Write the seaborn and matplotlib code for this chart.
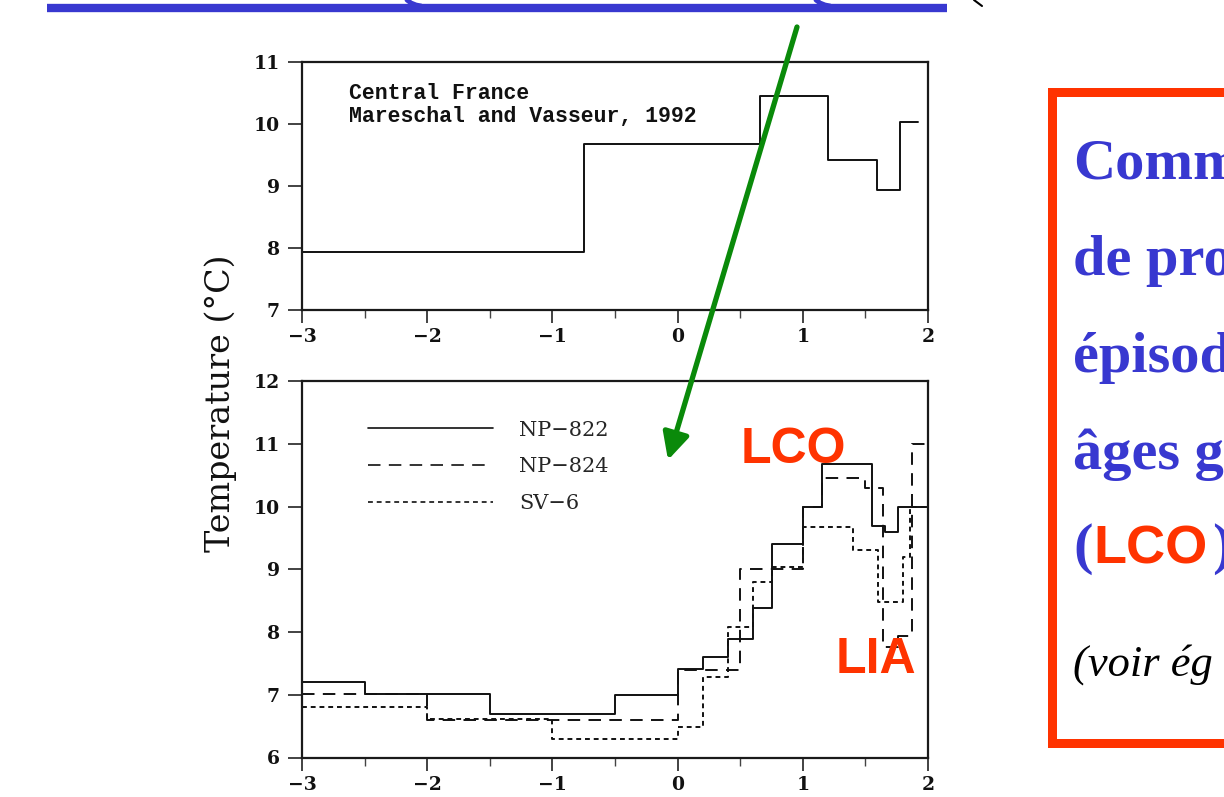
import pandas as pd
import seaborn as sns
import matplotlib.pyplot as plt
from matplotlib.patches import Rectangle
from matplotlib.ticker import MultipleLocator

# step edges (ka BP) and temperature (deg C)
cf_edges = [-3.0, -0.75, 0.66, 1.2, 1.59, 1.78, 1.92]
cf_temp = [7.94, 9.67, 10.45, 9.42, 8.94, 10.04]

np822_edges = [-3.0, -2.5, -1.5, -0.5, 0.0, 0.2, 0.4, 0.6, 0.75, 1.0, 1.15, 1.55, 1.66, 1.76, 2.0]
np822_temp = [7.21, 7.01, 6.70, 7.00, 7.41, 7.60, 7.89, 8.39, 9.40, 10.0, 10.68, 9.69, 9.60, 10.0]

np824_edges = [-3.0, -2.0, 0.0, 0.5, 1.0, 1.15, 1.5, 1.64, 1.76, 1.87, 2.0]
np824_temp = [7.01, 6.60, 7.39, 9.00, 10.0, 10.45, 10.29, 7.76, 7.93, 11.0]

sv6_edges = [-3.0, -2.0, -1.0, 0.0, 0.2, 0.4, 0.6, 0.75, 1.0, 1.4, 1.6, 1.8, 1.86, 2.0]
sv6_temp = [6.81, 6.61, 6.29, 6.49, 7.29, 8.08, 8.80, 9.04, 9.68, 9.31, 8.48, 9.20, 10.0]

x_ticks = [-3, -2, -1, 0, 1, 2]
top_yticks = [7, 8, 9, 10, 11]
bot_yticks = [6, 7, 8, 9, 10, 11, 12]

box_lines = ["Comm", "de pro", "épisod", "âges g"]

sns.set_theme(style="ticks")
plt.rcParams["font.family"] = ["DejaVu Serif", "DejaVu Sans"]
plt.rcParams["lines.scale_dashes"] = False

W, H = 1224, 797
fig = plt.figure(figsize=(W / 100, H / 100), dpi=100)
fig.patch.set_facecolor("white")


def px_axes(left, top, right, bottom):
    return fig.add_axes([left / W, 1 - bottom / H, (right - left) / W, (bottom - top) / H])


def steps(edges, temps, name):
    return pd.DataFrame({"age": edges, "temp": temps + [temps[-1]], "core": name})


def style_axes(ax, yticks):
    ax.set_xlim(-3, 2)
    ax.set_ylim(yticks[0], yticks[-1])
    ax.set_xticks(x_ticks)
    ax.set_xticklabels([str(t).replace("-", "\u2212") for t in x_ticks],
                       fontweight="bold", fontsize=13.5)
    ax.set_yticks(yticks)
    ax.set_yticklabels([str(t) for t in yticks], fontweight="bold", fontsize=13.5)
    ax.xaxis.set_minor_locator(MultipleLocator(0.5))
    ax.tick_params(axis="x", which="major", length=9, width=1.2, pad=4, color="#222")
    ax.tick_params(axis="x", which="minor", length=6, width=1.0, color="#444")
    ax.tick_params(axis="y", which="major", length=10, width=1.2, pad=6, color="#222")
    ax.tick_params(labelcolor="#111")
    for sp in ax.spines.values():
        sp.set_visible(True)
        sp.set_linewidth(1.6)
        sp.set_color("#1a1a1a")
    ax.set_xlabel("")
    ax.set_ylabel("")
    ax.set_facecolor("white")


# top panel
ax1 = px_axes(302, 62, 928, 310)
sns.lineplot(data=steps(cf_edges, cf_temp, "CF"), x="age", y="temp", ax=ax1,
             color="#111", lw=1.4, drawstyle="steps-post", estimator=None,
             sort=False, legend=False)
style_axes(ax1, top_yticks)
ax1.text(0.075, 0.915, "Central France\nMareschal and Vasseur, 1992",
         transform=ax1.transAxes, family="Liberation Mono", fontweight="bold",
         fontsize=15.5, va="top", ha="left", linespacing=1.1, color="#111")

# bottom panel
ax2 = px_axes(302, 381, 928, 757.5)
series = [
    (np822_edges, np822_temp, "NP\u2212822", "-"),
    (np824_edges, np824_temp, "NP\u2212824", (0, (9, 6))),
    (sv6_edges, sv6_temp, "SV\u22126", (0, (3.5, 2.8))),
]
for edges, temps, name, ls in series:
    sns.lineplot(data=steps(edges, temps, name), x="age", y="temp", ax=ax2,
                 color="#111", lw=1.4, linestyle=ls, drawstyle="steps-post",
                 estimator=None, sort=False, legend=False, label=name)
style_axes(ax2, bot_yticks)
leg = ax2.legend(loc="upper left", bbox_to_anchor=(0.105, 0.895), frameon=False,
                 fontsize=15, handlelength=6.0, handletextpad=1.25,
                 labelspacing=0.85, borderpad=0, borderaxespad=0)
for line in leg.get_lines():
    line.set_linewidth(1.2)

fig.text(221 / W, 1 - 403 / H, "Temperature (\u00b0C)", rotation=90,
         ha="center", va="center", fontsize=24, color="#111")

# overlay in pixel coordinates for the slide decorations
ov = fig.add_axes([0, 0, 1, 1], zorder=10)
ov.set_xlim(0, W)
ov.set_ylim(H, 0)
ov.axis("off")
ov.patch.set_visible(False)

blue = "#3838d0"
red = "#ff3300"
ov.plot([47, 947], [8, 8], color=blue, lw=6, solid_capstyle="butt")
ov.plot([407, 411, 416, 421], [0, 3, 5, 6], color=blue, lw=3.5)
ov.plot([816, 820, 825, 830], [0, 3, 5, 6], color=blue, lw=3.5)
ov.plot([974, 978, 982], [0, 3, 6], color="black", lw=1.5)

ov.annotate("", xy=(668, 460), xytext=(797, 27),
            arrowprops=dict(arrowstyle="-|>,head_length=0.4,head_width=0.2",
                            color="#0a8a0a", lw=3.8, mutation_scale=40,
                            shrinkA=0, shrinkB=0))

ov.text(793, 450, "LCO", color=red, family="Liberation Sans", fontweight="bold",
        fontsize=36, ha="center", va="center")
ov.text(876, 660, "LIA", color=red, family="Liberation Sans", fontweight="bold",
        fontsize=36, ha="center", va="center")

# red frame: solid red block with a white inner block
ov.add_patch(Rectangle((1048, 88), 300, 660, facecolor=red, edgecolor="none",
                       clip_on=False, zorder=1))
ov.add_patch(Rectangle((1057, 97), 300, 642, facecolor="white", edgecolor="none",
                       clip_on=False, zorder=1.5))
for i, s in enumerate(box_lines):
    ov.text(1073, 178 + i * 97, s, color=blue, family="Liberation Serif",
            fontweight="bold", fontsize=42, ha="left", va="baseline", zorder=3)
ov.text(1073, 563, "(", color=blue, family="Liberation Serif",
        fontweight="bold", fontsize=42, ha="left", va="baseline", zorder=3)
ov.text(1093, 563, "LCO", color=red, family="Liberation Sans",
        fontweight="bold", fontsize=39, ha="left", va="baseline", zorder=3)
ov.text(1212, 563, ")", color=blue, family="Liberation Serif",
        fontweight="bold", fontsize=42, ha="left", va="baseline", zorder=3)
ov.text(1073, 676, "(voir ég", color="black", family="Liberation Serif",
        style="italic", fontsize=32, ha="left", va="baseline", zorder=3)

fig.savefig("out.png", dpi=100)
